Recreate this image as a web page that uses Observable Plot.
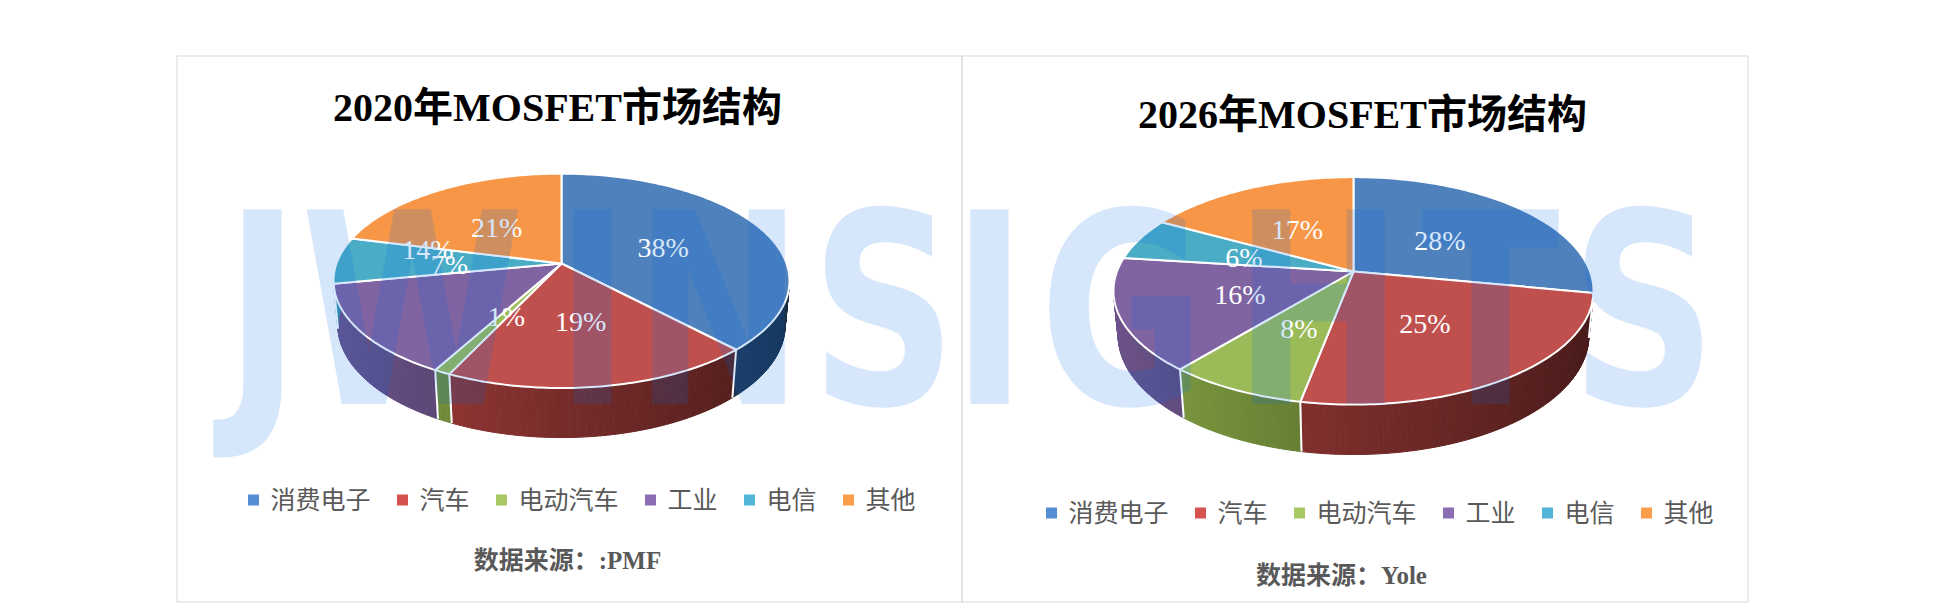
<!DOCTYPE html>
<html>
<head>
<meta charset="utf-8">
<script src="https://cdn.jsdelivr.net/npm/d3@7"></script>
<script src="https://cdn.jsdelivr.net/npm/@observablehq/plot@0.6"></script>
<style>
  html, body { margin: 0; padding: 0; background: #ffffff; }
  #chart svg { display: block; }
</style>
</head>
<body>
<div id="chart"></div>
<script>
// ---------- data ----------
const categories = ["消费电子", "汽车", "电动汽车", "工业", "电信", "其他"];
const share2020 = [38, 19, 1, 14, 7, 21];
const share2026 = [28, 25, 8, 16, 6, 17];
const titles = ["2020年MOSFET市场结构", "2026年MOSFET市场结构"];
const sources = ["数据来源：:PMF", "数据来源：Yole"];
const watermarkLetters = ["J", "W", "I", "N", "S", "I", "G", "H", "T", "S"];

// ---------- styles / layout ----------
const faceColors = ["#4f81bd", "#c0504d", "#9bbb59", "#8064a2", "#4bacc6", "#f79646"];
const legendColors = ["#558dd4", "#d4524f", "#a8c866", "#8b6db3", "#50b5d6", "#fb9e4c"];
const W = 1939, H = 616;
const layout = [
  {frame: [177, 56, 962, 602], cx: 561, cy: 263, F: 1233, D: 5.48, s: 0.464, h: 0.225,
   titleX: 557, titleY: 108, legendX: 248, legendY: 500, sourceX: 567, sourceY: 560,
   nudge: {"工业": [-38, -49]}},
  {frame: [962, 56, 1748, 602], cx: 1353, cy: 271, F: 1230, D: 5.20, s: 0.467, h: 0.215,
   titleX: 1362, titleY: 115, legendX: 1046, legendY: 513, sourceX: 1341, sourceY: 575,
   nudge: {}}
];
const watermarkLayout = {xs: [262, 412, 592, 718, 883, 989, 1122, 1318, 1490, 1643], y: 318, size: 267, squeeze: 0.76};
const series = [share2020, share2026];

function shade(color, t) {
  const c = d3.hsl(color);
  const k = 0.6 - 0.25 * Math.sin(t);
  c.l = c.l * k;
  return c.formatHex();
}

const tops = [], sides = [], edges = [], labels = [];
const legendMarks = [], legendTexts = [], frames = [], heads = [], foots = [];

series.forEach((vals, pi) => {
  const L = layout[pi];
  const c = Math.sqrt(1 - L.s * L.s);
  const P = (t, r, y) => {
    const sx = r * Math.sin(t), sz = r * Math.cos(t);
    const d = L.D + c * sz - y * L.s;
    const yc = y * c + L.s * sz;
    return [L.cx + L.F * sx / d, L.cy - L.F * yc / d];
  };
  const total = d3.sum(vals);
  let acc = 0;
  vals.forEach((v, i) => {
    const a0 = acc / total * 2 * Math.PI;
    acc += v;
    const a1 = acc / total * 2 * Math.PI;
    const id = `${pi}-${i}`;
    const n = Math.max(2, Math.ceil((a1 - a0) / (Math.PI / 180)));
    const pts = [[L.cx, L.cy]];
    for (let k = 0; k <= n; k++) pts.push(P(a0 + (a1 - a0) * k / n, 1, 0));
    pts.forEach(([x, y]) => tops.push({id, x, y, fill: faceColors[i]}));
    const s0 = Math.max(a0, Math.PI / 2), s1 = Math.min(a1, 3 * Math.PI / 2);
    if (s1 > s0) {
      const m = Math.max(1, Math.ceil((s1 - s0) / (Math.PI / 180)));
      for (let k = 0; k < m; k++) {
        const t0 = s0 + (s1 - s0) * k / m, t1 = s0 + (s1 - s0) * (k + 1) / m;
        const col = shade(faceColors[i], (t0 + t1) / 2);
        const sid = `${id}-s${k}`;
        [P(t0, 1, 0), P(t1, 1, 0), P(t1, 1, -L.h), P(t0, 1, -L.h)]
          .forEach(([x, y]) => sides.push({id: sid, x, y, fill: col}));
      }
    }
    if (a1 > Math.PI / 2 && a1 < 3 * Math.PI / 2) {
      const [x1, y1] = P(a1, 1, 0), [x2, y2] = P(a1, 1, -L.h);
      edges.push({x1, y1, x2, y2});
    }
    const [lx, ly] = P((a0 + a1) / 2, 0.5, 0);
    const nd = L.nudge[categories[i]] || [0, 0];
    labels.push({x: lx + nd[0], y: ly + 3 + nd[1], text: `${v}%`});
  });
  let x = L.legendX;
  categories.forEach((cat, i) => {
    legendMarks.push({x1: x, x2: x + 11, y1: L.legendY - 5.5, y2: L.legendY + 5.5, fill: legendColors[i]});
    legendTexts.push({x: x + 22, y: L.legendY, text: cat});
    x += 22 + cat.length * 25 + 27;
  });
  frames.push({x1: L.frame[0], y1: L.frame[1], x2: L.frame[2], y2: L.frame[3]});
  heads.push({x: L.titleX, y: L.titleY, text: titles[pi]});
  foots.push({x: L.sourceX, y: L.sourceY, text: sources[pi]});
});

const wm = watermarkLetters.map((ch, i) => ({ch, x: watermarkLayout.xs[i], y: watermarkLayout.y}));
const serifCJK = "'Liberation Serif','Noto Sans CJK SC',serif";

const chart = Plot.plot({
  width: W, height: H, margin: 0,
  x: {domain: [0, W], range: [0, W], axis: null},
  y: {domain: [0, H], range: [0, H], axis: null},
  color: {type: "identity"},
  style: {background: "#ffffff"},
  marks: [
    Plot.rect(frames, {x1: "x1", x2: "x2", y1: "y1", y2: "y2", fill: "none", stroke: "#d9d9d9", strokeWidth: 1}),
    Plot.line(sides, {x: "x", y: "y", z: "id", fill: "fill", stroke: "fill", strokeWidth: 1, curve: "linear-closed"}),
    Plot.line(tops, {x: "x", y: "y", z: "id", fill: "fill", stroke: "#ffffff", strokeWidth: 2, strokeLinejoin: "round", curve: "linear-closed"}),
    Plot.link(edges, {x1: "x1", y1: "y1", x2: "x2", y2: "y2", stroke: "#ffffff", strokeWidth: 2}),
    Plot.text(labels, {x: "x", y: "y", text: "text", fill: "#ffffff", fontSize: 28, fontFamily: "'Liberation Serif',serif"}),
    Plot.text(heads, {x: "x", y: "y", text: "text", fill: "#000000", fontSize: 40, fontWeight: "bold", fontFamily: serifCJK}),
    Plot.rect(legendMarks, {x1: "x1", x2: "x2", y1: "y1", y2: "y2", fill: "fill"}),
    Plot.text(legendTexts, {x: "x", y: "y", text: "text", fill: "#595959", fontSize: 25, textAnchor: "start", fontFamily: "'Noto Sans CJK SC',sans-serif"}),
    Plot.text(foots, {x: "x", y: "y", text: "text", fill: "#595959", fontSize: 25, fontWeight: "bold", fontFamily: serifCJK}),
    Plot.text(wm, {x: "x", y: "y", text: "ch", fill: "rgb(0,106,230)", fillOpacity: 0.16, fontSize: watermarkLayout.size, fontWeight: "bold", fontFamily: "'DejaVu Sans',sans-serif"})
  ]
});

document.getElementById("chart").appendChild(chart);

chart.querySelectorAll("text").forEach(t => {
  const s = t.textContent;
  if (s.length === 1 && watermarkLetters.includes(s)) {
    const w = t.getComputedTextLength();
    t.setAttribute("textLength", (w * watermarkLayout.squeeze).toFixed(1));
    t.setAttribute("lengthAdjust", "spacingAndGlyphs");
  }
});
</script>
</body>
</html>
